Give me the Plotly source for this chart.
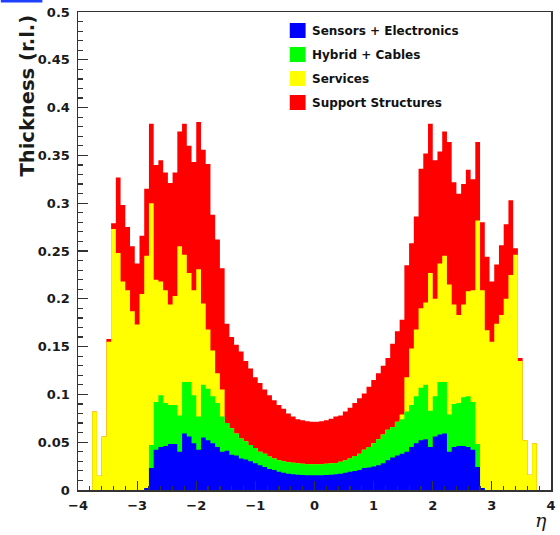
import numpy as np
import plotly.graph_objects as go

# Histogram binning in eta: 100 bins of width 0.08 from -4 to 4
eta_edges = np.round(np.linspace(-4.0, 4.0, 101), 2)

# Cumulative stacked tops (radiation lengths), one value per eta bin
support_top = [
    0, 0, 0, 0.082, 0.015, 0.056, 0.158, 0.279, 0.327, 0.298,
    0.275, 0.255, 0.237, 0.266, 0.315, 0.383, 0.340, 0.345, 0.332, 0.321,
    0.332, 0.375, 0.383, 0.360, 0.343, 0.385, 0.356, 0.341, 0.288, 0.262,
    0.232, 0.174, 0.160, 0.152, 0.145, 0.135, 0.127, 0.118, 0.112, 0.105,
    0.099, 0.094, 0.089, 0.085, 0.080, 0.077, 0.074, 0.073, 0.072, 0.0715,
    0.0715, 0.072, 0.073, 0.0745, 0.077, 0.078, 0.082, 0.086, 0.091, 0.096,
    0.101, 0.108, 0.115, 0.122, 0.130, 0.138, 0.153, 0.166, 0.178, 0.235,
    0.258, 0.286, 0.336, 0.352, 0.383, 0.345, 0.354, 0.375, 0.364, 0.322,
    0.310, 0.320, 0.335, 0.325, 0.364, 0.280, 0.244, 0.218, 0.236, 0.256,
    0.278, 0.303, 0.253, 0.138, 0.052, 0.016, 0.049, 0, 0, 0,
]
services_top = [
    0, 0, 0, 0.082, 0.015, 0.056, 0.155, 0.273, 0.248, 0.218,
    0.209, 0.187, 0.173, 0.205, 0.245, 0.300, 0.220, 0.218, 0.209, 0.194,
    0.203, 0.255, 0.246, 0.227, 0.209, 0.231, 0.195, 0.168, 0.146, 0.122,
    0.105, 0.070, 0.0645, 0.059, 0.054, 0.051, 0.047, 0.044, 0.040, 0.038,
    0.035, 0.033, 0.031, 0.030, 0.029, 0.0285, 0.028, 0.0275, 0.027, 0.027,
    0.027, 0.027, 0.0275, 0.028, 0.028, 0.0295, 0.031, 0.033, 0.0355, 0.038,
    0.042, 0.045, 0.049, 0.053, 0.058, 0.063, 0.066, 0.0715, 0.079, 0.118,
    0.148, 0.168, 0.190, 0.196, 0.227, 0.200, 0.237, 0.245, 0.215, 0.194,
    0.183, 0.194, 0.208, 0.209, 0.282, 0.209, 0.167, 0.155, 0.174, 0.183,
    0.200, 0.225, 0.246, 0.135, 0.052, 0.016, 0.049, 0, 0, 0,
]
hybrid_top = [
    0, 0, 0, 0, 0, 0, 0, 0, 0, 0,
    0, 0, 0, 0, 0.002, 0.047, 0.092, 0.099, 0.091, 0.089,
    0.089, 0.078, 0.113, 0.113, 0.099, 0.077, 0.110, 0.106, 0.098, 0.091,
    0.077, 0.070, 0.0645, 0.059, 0.054, 0.051, 0.047, 0.044, 0.040, 0.038,
    0.035, 0.033, 0.031, 0.030, 0.029, 0.0285, 0.028, 0.0275, 0.027, 0.027,
    0.027, 0.027, 0.0275, 0.028, 0.028, 0.0295, 0.031, 0.033, 0.0355, 0.038,
    0.042, 0.045, 0.049, 0.053, 0.058, 0.063, 0.066, 0.0715, 0.074, 0.082,
    0.089, 0.098, 0.107, 0.110, 0.083, 0.098, 0.113, 0.113, 0.079, 0.090,
    0.091, 0.097, 0.098, 0.092, 0.048, 0.002, 0, 0, 0, 0,
    0, 0, 0, 0, 0, 0, 0, 0, 0, 0,
]
sensors_top = [
    0, 0, 0, 0, 0, 0, 0, 0, 0, 0,
    0, 0, 0, 0, 0.002, 0.023, 0.042, 0.045, 0.046, 0.048,
    0.048, 0.040, 0.059, 0.056, 0.049, 0.042, 0.055, 0.052, 0.049, 0.045,
    0.040, 0.041, 0.037, 0.036, 0.033, 0.032, 0.030, 0.028, 0.026, 0.024,
    0.022, 0.021, 0.019, 0.018, 0.017, 0.0165, 0.016, 0.0157, 0.0155, 0.0155,
    0.0155, 0.0155, 0.0157, 0.016, 0.0165, 0.017, 0.018, 0.019, 0.020, 0.021,
    0.023, 0.0235, 0.0245, 0.026, 0.028, 0.031, 0.034, 0.036, 0.038, 0.040,
    0.045, 0.049, 0.052, 0.053, 0.045, 0.056, 0.058, 0.059, 0.040, 0.045,
    0.046, 0.046, 0.045, 0.042, 0.024, 0.002, 0, 0, 0, 0,
    0, 0, 0, 0, 0, 0, 0, 0, 0, 0,
]

layer_names = ["Support Structures", "Services", "Hybrid + Cables", "Sensors + Electronics"]
layer_values = [support_top, services_top, hybrid_top, sensors_top]
layer_colors = ["#ff0000", "#ffff00", "#00ff00", "#0000ff"]

x_ticks = [-4, -3, -2, -1, 0, 1, 2, 3, 4]

fig = go.Figure()
for name, vals, col in zip(layer_names, layer_values, layer_colors):
    fig.add_trace(go.Scatter(
        x=list(eta_edges),
        y=list(vals) + [vals[-1]],
        mode="lines",
        line=dict(shape="hv", width=0, color=col),
        fill="tozeroy",
        fillcolor=col,
        name=name,
        showlegend=False,
        hoverinfo="skip",
    ))

W, H = 560, 535
L, R, T, B = 78, 4, 12, 45
pw, ph = W - L - R, H - T - B

def px(xp):
    return (xp - L) / pw

def py(yp):
    return (H - B - yp) / ph

axis_col = "#333333"
tick_font = dict(family="DejaVu Sans", size=13, color="#1a1a1a", weight="bold")

fig.update_layout(
    width=W, height=H,
    margin=dict(l=L, r=R, t=T, b=B, pad=0),
    paper_bgcolor="white", plot_bgcolor="white",
    showlegend=False,
    hovermode=False,
    xaxis=dict(
        range=[-4, 4], tickmode="array", tickvals=x_ticks,
        ticks="inside", ticklen=9, tickwidth=1.2, tickcolor=axis_col,
        minor=dict(dtick=0.2, ticks="inside", ticklen=4.5, tickwidth=1.2, tickcolor=axis_col, showgrid=False),
        showline=True, linecolor=axis_col, linewidth=1.5, mirror=True,
        showgrid=False, zeroline=False, tickfont=tick_font,
        ticklabelstandoff=3,
    ),
    yaxis=dict(
        range=[0, 0.5], dtick=0.05, tick0=0,
        ticks="inside", ticklen=10, tickwidth=1.2, tickcolor=axis_col,
        minor=dict(dtick=0.01, ticks="inside", ticklen=5, tickwidth=1.2, tickcolor=axis_col, showgrid=False),
        showline=True, linecolor=axis_col, linewidth=1.5, mirror=True,
        showgrid=False, zeroline=False, tickfont=tick_font,
        ticklabelstandoff=4,
    ),
)

annotations = []
shapes = []

# Y-axis title, right-aligned at the top like ROOT
annotations.append(dict(
    text="Thickness (r.l.)", textangle=-90, showarrow=False,
    xref="paper", yref="paper", x=px(27), y=py(13),
    xanchor="center", yanchor="top",
    font=dict(family="DejaVu Sans", size=19.5, color="#1a1a1a", weight="bold"),
))
# X-axis title
annotations.append(dict(
    text="<i>η</i>", showarrow=False, xref="paper", yref="paper",
    x=px(546), y=py(520), xanchor="center", yanchor="middle",
    font=dict(family="DejaVu Serif", size=19, color="#1a1a1a"),
))

# Manual legend (top to bottom)
legend_order = ["Sensors + Electronics", "Hybrid + Cables", "Services", "Support Structures"]
legend_color = {n: c for n, c in zip(layer_names, layer_colors)}
for i, name in enumerate(legend_order):
    y0 = 23 + 24 * i
    shapes.append(dict(
        type="rect", xref="paper", yref="paper",
        x0=px(292), x1=px(308), y0=py(y0), y1=py(y0 + 15),
        fillcolor=legend_color[name], line=dict(width=0),
    ))
    annotations.append(dict(
        text=name, showarrow=False, xref="paper", yref="paper",
        x=px(312), y=py(y0 + 8), xanchor="left", yanchor="middle",
        font=dict(family="DejaVu Sans", size=12, color="#111111", weight="bold"),
    ))

# small blue mark at the top-left corner of the original image
shapes.append(dict(
    type="line", xref="paper", yref="paper",
    x0=px(0), x1=px(42), y0=py(1), y1=py(1),
    line=dict(color="#1f3fff", width=3),
))

fig.update_layout(annotations=annotations, shapes=shapes)
fig.write_html(
    "out.html",
    config={"displayModeBar": False, "staticPlot": True},
    post_script="document.body.style.margin='0';document.body.style.padding='0';",
)
